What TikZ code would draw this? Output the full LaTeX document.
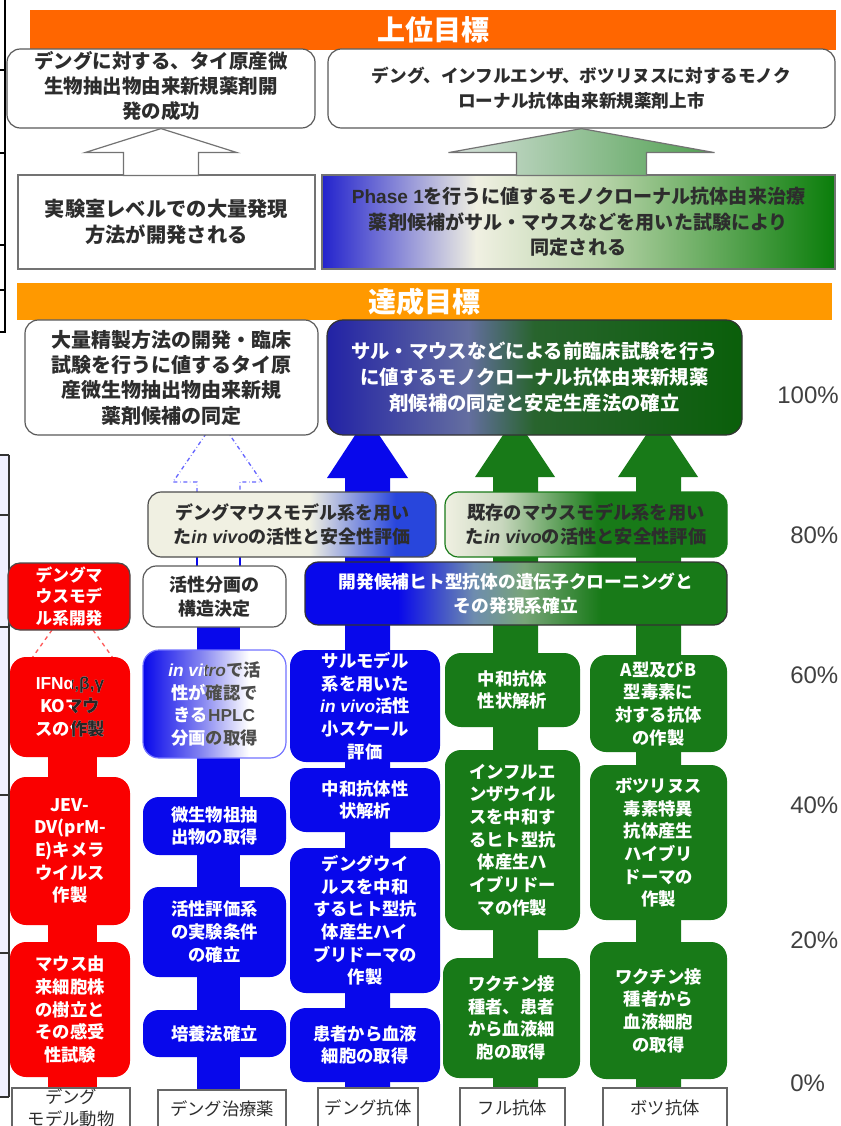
\documentclass[tikz,border=0pt]{standalone}
\usepackage{fontspec}
\setmainfont{Noto Sans CJK JP}
\newfontfamily\lat{Liberation Sans}
\definecolor{orA}{RGB}{255,102,0}
\definecolor{orB}{RGB}{255,153,0}
\definecolor{rd}{RGB}{250,0,0}
\definecolor{bl}{RGB}{8,8,235}
\definecolor{gr}{RGB}{24,122,24}
\definecolor{txt}{RGB}{45,45,45}
\definecolor{cBlueD}{RGB}{35,35,205}
\definecolor{cCream}{RGB}{240,240,226}
\definecolor{cLGreen}{RGB}{185,212,170}
\definecolor{cGreenD}{RGB}{10,125,10}
\definecolor{cFblue}{RGB}{34,34,165}
\definecolor{cFmid}{RGB}{100,110,160}
\definecolor{cFgm}{RGB}{40,100,45}
\definecolor{cFgreen}{RGB}{10,95,10}
\definecolor{cMblue}{RGB}{40,70,220}
\definecolor{cKlight}{RGB}{200,215,190}
\definecolor{cGmid1}{RGB}{110,140,175}
\definecolor{cGmid2}{RGB}{120,165,120}
\definecolor{cVmid}{RGB}{130,130,240}
\definecolor{cAL}{RGB}{215,225,220}
\definecolor{cAR}{RGB}{80,160,80}
\pgfdeclarehorizontalshading{shD}{100bp}{color(0bp)=(cBlueD); color(25bp)=(cBlueD); color(40bp)=(cCream); color(52bp)=(cLGreen); color(75bp)=(cGreenD); color(100bp)=(cGreenD)}
\pgfdeclarehorizontalshading{shF}{100bp}{color(0bp)=(cFblue); color(25bp)=(cFblue); color(42bp)=(cFmid); color(50bp)=(cFgm); color(75bp)=(cFgreen); color(100bp)=(cFgreen)}
\pgfdeclarehorizontalshading{shM}{100bp}{color(0bp)=(cCream); color(25bp)=(cCream); color(53bp)=(cCream); color(68bp)=(cMblue); color(75bp)=(cMblue); color(100bp)=(cMblue)}
\pgfdeclarehorizontalshading{shK}{100bp}{color(0bp)=(cCream); color(25bp)=(cCream); color(35bp)=(cKlight); color(52bp)=(gr); color(75bp)=(gr); color(100bp)=(gr)}
\pgfdeclarehorizontalshading{shG}{100bp}{color(0bp)=(bl); color(25bp)=(bl); color(36bp)=(bl); color(45bp)=(cGmid1); color(51bp)=(cGmid2); color(60bp)=(gr); color(75bp)=(gr); color(100bp)=(gr)}
\pgfdeclarehorizontalshading{shV}{100bp}{color(0bp)=(bl); color(25bp)=(bl); color(45bp)=(cVmid); color(62bp)=(white); color(75bp)=(white); color(100bp)=(white)}
\pgfdeclarehorizontalshading{shA}{100bp}{color(0bp)=(cAL); color(25bp)=(cAL); color(75bp)=(cAR); color(100bp)=(cAR)}
\newcommand\mkbox[7]{%
  \pgfmathsetmacro\bxcx{(#3+#5)/2}%
  \pgfmathsetmacro\bxcy{(#4+#6)/2}%
  \pgfmathsetmacro\bxw{(#5-#3)*0.75}%
  \pgfmathsetmacro\bxh{(#6-#4)*0.75}%
  \node[#1, minimum width=\bxw pt, minimum height=\bxh pt] (#2) at (\bxcx,\bxcy) {#7};%
}
\newcommand\iv{{\lat\itshape in vivo}}
\begin{document}
\begin{tikzpicture}[x=0.75pt,y=-0.75pt,
  tbox/.style={draw=black!65, line width=0.9pt, rounded corners=10pt, fill=white, align=center, text=txt, inner sep=0pt},
  sqbox/.style={draw=black!55, line width=0.9pt, fill=white, align=center, text=txt, inner sep=0pt},
  shbox/.style={line width=0.9pt, align=center, inner sep=0pt},
  cbox/.style={rounded corners=12pt, align=center, text=white, inner sep=0pt, font=\fontsize{13}{17}\selectfont\bfseries},
  rbox/.style={cbox, fill=rd},
  bbox/.style={cbox, fill=bl},
  gbox/.style={cbox, fill=gr},
  lab/.style={draw=black!60, line width=0.8pt, fill=white, align=center, text=txt, inner sep=0pt, font=\fontsize{13}{16.5}\selectfont},
  orbar/.style={inner sep=0pt, text=white, font=\fontsize{21}{21}\selectfont\bfseries},
  pct/.style={anchor=west, text=black!75, font=\lat\fontsize{18}{18}\selectfont, inner sep=0pt}
]
\useasboundingbox (0,0) rectangle (840,1126);

% left edge fragments
\draw[line width=2.2pt] (5,0) -- (5,332);
\draw[line width=1.6pt] (0,332) -- (6,332);
\foreach \yy in {70,153,245,290} \draw[line width=0.8pt] (0,\yy) -- (5,\yy);
\fill[blue!6] (0,455) rectangle (9,1097);
\draw[black!80, line width=0.8pt] (9,455) -- (9,1097);
\foreach \yy in {455,515,627,795,953,1097} \draw[black!80, line width=0.8pt] (0,\yy) -- (9,\yy);

% header bars
\mkbox{orbar, fill=orA}{hdr1}{30}{10}{836}{50}{上位目標}
\mkbox{orbar, fill=orB}{hdr2}{17}{283}{832}{320}{達成目標}

% top boxes
\mkbox{tbox, font=\fontsize{14.6}{18.75}\selectfont\bfseries}{A}{7}{49}{315}{128}{\raisebox{-3pt}{\begin{tabular}{@{}c@{}}デングに対する、タイ原産微\\生物抽出物由来新規薬剤開\\発の成功\end{tabular}}}
\mkbox{tbox, font=\fontsize{13.2}{18.75}\selectfont\bfseries}{B}{328}{49}{835}{128}{デング、インフルエンザ、ボツリヌスに対するモノク\\ローナル抗体由来新規薬剤上市}
\mkbox{sqbox, font=\fontsize{15.2}{20}\selectfont\bfseries}{C}{18}{175}{315}{269}{実験室レベルでの大量発現\\方法が開発される}
\mkbox{shbox, draw=black!55, shading=shD, text=txt, font=\fontsize{14.3}{19}\selectfont\bfseries}{D}{322}{175}{835}{269}{{\lat Phase 1}を行うに値するモノクローナル抗体由来治療\\薬剤候補がサル・マウスなどを用いた試験により\\同定される}

% big hollow arrows
\draw[draw=black!55, line width=0.9pt, fill=white] (A.south) -- ++(-76,24) -- ++(38.5,0) -- ++(0,23) -- ++(75,0) -- ++(0,-23) -- ++(38.5,0) -- cycle;
\draw[draw=black!55, line width=0.9pt, shading=shA] (B.south) -- ++(-133,24) -- ++(68,0) -- ++(0,23) -- ++(130,0) -- ++(0,-23) -- ++(68,0) -- cycle;

% column shafts and arrows (behind boxes)
\fill[rd] (48,740) rectangle (97,1090);
\fill[bl] (197,620) rectangle (240,1090);
\draw[bl, line width=0.9pt] (197,556) -- (197,567) (240,556) -- (240,567);
\draw[blue!60!white, dash dot, line width=1pt] (197,492) -- (197,482) -- (173,482) -- (217.5,417) -- (262,482) -- (240,482) -- (240,492);
\fill[bl] (345,1090) -- (345,478) -- (327,478) -- (367,417) -- (408,478) -- (390,478) -- (390,1090) -- cycle;
\fill[gr] (493,1090) -- (493,477) -- (475,477) -- (515,417) -- (555,477) -- (538,477) -- (538,1090) -- cycle;
\fill[gr] (636,1090) -- (636,477) -- (618,477) -- (658,417) -- (698,477) -- (681,477) -- (681,1090) -- cycle;
\draw[red!65!white, dashed, line width=1pt] (52,630) -- (32,658) (93,630) -- (113,658);

% achievement boxes
\mkbox{tbox, font=\fontsize{15}{19}\selectfont\bfseries}{E}{25}{320}{318}{435}{大量精製方法の開発・臨床\\試験を行うに値するタイ原\\産微生物抽出物由来新規\\薬剤候補の同定}
\mkbox{shbox, draw=black!80, rounded corners=12pt, shading=shF, text=white, font=\fontsize{14.5}{19.5}\selectfont\bfseries}{F}{327}{320}{742}{435}{サル・マウスなどによる前臨床試験を行う\\に値するモノクローナル抗体由来新規薬\\剤候補の同定と安定生産法の確立}

% middle boxes
\mkbox{shbox, draw=black!70, rounded corners=10pt, shading=shM, text=txt, font=\fontsize{13.5}{18}\selectfont\bfseries}{M}{148}{492}{436}{557}{デングマウスモデル系を用い\\た\iv の活性と安全性評価}
\mkbox{shbox, draw=gr, rounded corners=10pt, shading=shK, text=txt, font=\fontsize{13.7}{18}\selectfont\bfseries}{K}{445}{492}{727}{557}{既存のマウスモデル系を用い\\た\iv の活性と安全性評価}
\mkbox{tbox, font=\fontsize{13.5}{18}\selectfont\bfseries}{S}{143}{566}{286}{627}{活性分画の\\構造決定}
\mkbox{shbox, draw=black!80, rounded corners=10pt, shading=shG, text=white, font=\fontsize{13.3}{18}\selectfont\bfseries}{G}{305}{562}{727}{625}{開発候補ヒト型抗体の遺伝子クローニングと\\その発現系確立}

% column 1 (red)
\mkbox{rbox, draw=black!70, line width=0.9pt, rounded corners=9pt, font=\fontsize{12.5}{16}\selectfont\bfseries}{r0}{8}{563}{130}{630}{デングマ\\ウスモデ\\ル系開発}
\mkbox{rbox}{r1}{10}{657}{130}{757}{{\lat IFNα,β,γ}\\KOマウ\\スの作製}
\begin{scope}
\clip (72,650) rectangle (135,765);
\node[cbox, text=black!85, minimum width=90pt, minimum height=75pt] (r1d) at (r1.center) {{\lat IFNα,β,γ}\\KOマウ\\スの作製};
\end{scope}
\mkbox{rbox}{r2}{10}{777}{130}{925}{JEV-\\DV(prM-\\E)キメラ\\ウイルス\\作製}
\mkbox{rbox}{r3}{10}{942}{130}{1077}{マウス由\\来細胞株\\の樹立と\\その感受\\性試験}

% column 2 (blue)
\mkbox{shbox, draw=blue!55!white, rounded corners=12pt, shading=shV, text=white, font=\fontsize{13}{17}\selectfont\bfseries}{b1}{143}{650}{286}{758}{{\lat\itshape in vitro}で活\\性が確認で\\きる{\lat HPLC}\\分画の取得}
\begin{scope}
\clip (205,645) rectangle (292,765);
\node[cbox, text=black!70, minimum width=107pt, minimum height=81pt] (b1d) at (b1.center) {{\lat\itshape in vitro}で活\\性が確認で\\きる{\lat HPLC}\\分画の取得};
\end{scope}
\mkbox{bbox}{b2}{143}{797}{286}{855}{微生物祖抽\\出物の取得}
\mkbox{bbox}{b3}{143}{887}{286}{977}{活性評価系\\の実験条件\\の確立}
\mkbox{bbox}{b4}{143}{1010}{286}{1057}{培養法確立}

% column 3 (blue)
\mkbox{bbox}{c1}{290}{650}{440}{762}{サルモデル\\系を用いた\\\iv 活性\\小スケール\\評価}
\mkbox{bbox}{c2}{290}{768}{440}{832}{中和抗体性\\状解析}
\mkbox{bbox}{c3}{290}{848}{440}{993}{デングウイ\\ルスを中和\\するヒト型抗\\体産生ハイ\\ブリドーマの\\作製}
\mkbox{bbox}{c4}{290}{1008}{440}{1082}{患者から血液\\細胞の取得}

% column 4 (green)
\mkbox{gbox}{d1}{445}{653}{580}{727}{中和抗体\\性状解析}
\mkbox{gbox}{d2}{445}{750}{580}{930}{インフルエ\\ンザウイル\\スを中和す\\るヒト型抗\\体産生ハ\\イブリドー\\マの作製}
\mkbox{gbox}{d3}{443}{958}{580}{1078}{ワクチン接\\種者、患者\\から血液細\\胞の取得}

% column 5 (green)
\mkbox{gbox}{e1}{590}{655}{727}{752}{A型及びB\\型毒素に\\対する抗体\\の作製}
\mkbox{gbox}{e2}{590}{765}{727}{920}{ボツリヌス\\毒素特異\\抗体産生\\ハイブリ\\ドーマの\\作製}
\mkbox{gbox}{e3}{590}{942}{727}{1079}{ワクチン接\\種者から\\血液細胞\\の取得}

% bottom labels
\mkbox{lab}{L1}{12}{1088}{130}{1128}{デング\\モデル動物}
\mkbox{lab}{L2}{158}{1090}{286}{1128}{デング治療薬}
\mkbox{lab}{L3}{318}{1088}{418}{1128}{デング抗体}
\mkbox{lab}{L4}{460}{1088}{565}{1128}{フル抗体}
\mkbox{lab}{L5}{603}{1088}{727}{1128}{ボツ抗体}

% percent scale
\node[pct, anchor=east] (p100) at (839,395) {100\%};
\node[pct] (p80) at (790,535) {80\%};
\node[pct] (p60) at (790,675) {60\%};
\node[pct] (p40) at (790,805) {40\%};
\node[pct] (p20) at (790,940) {20\%};
\node[pct] (p0) at (790,1083) {0\%};
\end{tikzpicture}
\end{document}
